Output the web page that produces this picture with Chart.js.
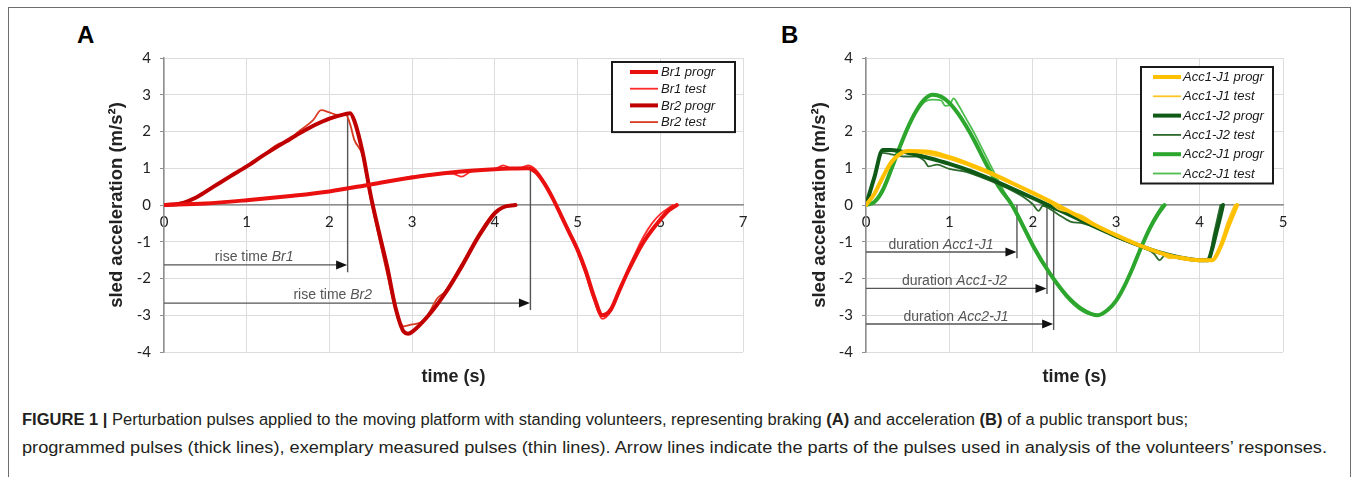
<!DOCTYPE html>
<html>
<head>
<meta charset="utf-8">
<title>Figure 1 - sled acceleration pulses</title>
<script src="https://cdn.jsdelivr.net/npm/chart.js@4.4.1/dist/chart.umd.min.js"></script>
<style>
  html, body { margin: 0; padding: 0; background: #fff; }
  body { width: 1355px; height: 477px; position: relative; overflow: hidden; font-family: "Liberation Sans", Arial, sans-serif; }
  .frame { position: absolute; left: 8px; top: 7px; width: 1343px; height: 520px; border: 1.5px solid #6e6e6e; box-sizing: border-box; }
  .panel { position: absolute; top: 21px; font: bold 24px "Liberation Sans", Arial, sans-serif; color: #000; }
  .wrap { position: absolute; top: 30px; }
  .caption { position: absolute; left: 22px; top: 406px; font-size: 16px; line-height: 28px; color: #231f20; white-space: nowrap; }
  .caption div { width: max-content; transform-origin: 0 0; }
</style>
</head>
<body>
<div class="frame"></div>
<div class="panel" style="left:77px">A</div>
<div class="panel" style="left:781px">B</div>
<div class="wrap" style="left:60px"><canvas id="chartA" width="700" height="360"></canvas></div>
<div class="wrap" style="left:760px"><canvas id="chartB" width="560" height="360"></canvas></div>
<div class="caption" id="caption">
  <div id="capLine1"><b>FIGURE 1 |</b> Perturbation pulses applied to the moving platform with standing volunteers, representing braking <b>(A)</b> and acceleration <b>(B)</b> of a public transport bus;</div>
  <div id="capLine2">programmed pulses (thick lines), exemplary measured pulses (thin lines). Arrow lines indicate the parts of the pulses used in analysis of the volunteers’ responses.</div>
</div>
<script>
// ---- Panel A: braking pulses (time in s, acceleration in m/s^2) ----
const br1ProgrT = [0, 0.5, 1.0, 1.5, 2.0, 2.5, 3.0, 3.5, 4.0, 4.2, 4.4, 4.5, 4.6, 4.7, 4.8, 4.9, 5.0, 5.1, 5.2, 5.3, 5.4, 5.5, 5.6, 5.7, 5.8, 5.9, 6.0, 6.1, 6.2];
const br1ProgrA = [0, 0.04, 0.13, 0.24, 0.37, 0.56, 0.75, 0.89, 0.97, 0.99, 1.0, 0.88, 0.58, 0.18, -0.28, -0.75, -1.22, -1.8, -2.5, -3.0, -2.85, -2.35, -1.85, -1.4, -1.0, -0.68, -0.4, -0.15, 0];

const br1TestT = [0, 0.5, 1.0, 1.5, 2.0, 2.5, 2.9, 3.0, 3.1, 3.2, 3.4, 3.5, 3.6, 3.7, 3.8, 4.0, 4.1, 4.2, 4.3, 4.4, 4.5, 4.6, 4.7, 4.8, 4.9, 5.0, 5.1, 5.2, 5.3, 5.4, 5.5, 5.6, 5.7, 5.8, 5.9, 6.0, 6.15];
const br1TestA = [0, 0.05, 0.14, 0.25, 0.38, 0.57, 0.73, 0.78, 0.76, 0.8, 0.86, 0.85, 0.77, 0.9, 0.95, 0.98, 1.08, 1.0, 1.0, 1.08, 0.95, 0.62, 0.2, -0.28, -0.78, -1.28, -1.9, -2.6, -3.1, -2.9, -2.4, -1.8, -1.3, -0.85, -0.5, -0.25, 0];

const br2ProgrT = [0, 0.2, 0.4, 0.6, 0.8, 1.0, 1.2, 1.4, 1.6, 1.8, 2.0, 2.2, 2.25, 2.3, 2.4, 2.5, 2.6, 2.7, 2.8, 2.9, 2.95, 3.0, 3.2, 3.4, 3.6, 3.8, 4.0, 4.1, 4.25];
const br2ProgrA = [0, 0.04, 0.22, 0.5, 0.78, 1.05, 1.35, 1.63, 1.9, 2.15, 2.35, 2.48, 2.5, 2.3, 1.45, 0.25, -0.75, -1.7, -2.8, -3.45, -3.5, -3.45, -3.0, -2.4, -1.67, -0.87, -0.22, -0.06, 0];

const br2TestT = [0, 0.2, 0.4, 0.6, 0.8, 1.0, 1.2, 1.4, 1.5, 1.6, 1.8, 1.9, 2.0, 2.1, 2.2, 2.25, 2.3, 2.4, 2.5, 2.6, 2.7, 2.8, 2.9, 3.0, 3.1, 3.2, 3.3, 3.4, 3.6, 3.8, 4.0, 4.2];
const br2TestA = [0, 0.05, 0.23, 0.5, 0.78, 1.06, 1.36, 1.68, 1.72, 1.95, 2.3, 2.58, 2.52, 2.45, 2.45, 2.2, 1.78, 1.35, 0.15, -0.9, -1.9, -2.85, -3.3, -3.25, -3.2, -2.95, -2.55, -2.35, -1.6, -0.8, -0.18, 0];

// arrow lines of panel A (data units)
const riseArrows = [
  { text: 'rise time ', tag: 'Br1', y: -1.63, end: 2.22, top: 2.5, bottom: -1.83, labelX: 1.09, labelY: -1.42 },
  { text: 'rise time ', tag: 'Br2', y: -2.67, end: 4.43, top: 1.0, bottom: -2.86, labelX: 2.04, labelY: -2.46 }
];

// ---- Panel B: acceleration pulses ----
const acc1J1ProgrT = [0, 0.1, 0.2, 0.3, 0.4, 0.5, 0.75, 1.0, 1.25, 1.5, 1.75, 2.0, 2.25, 2.5, 2.75, 3.0, 3.25, 3.5, 3.75, 4.0, 4.15, 4.25, 4.35, 4.45];
const acc1J1ProgrA = [0, 0.3, 0.75, 1.15, 1.38, 1.47, 1.45, 1.3, 1.1, 0.87, 0.6, 0.33, 0.05, -0.25, -0.55, -0.82, -1.07, -1.28, -1.43, -1.5, -1.5, -1.15, -0.55, 0];

const acc1J1TestT = [0, 0.1, 0.2, 0.3, 0.4, 0.5, 0.7, 1.0, 1.25, 1.5, 1.75, 2.0, 2.2, 2.3, 2.5, 2.6, 2.75, 3.0, 3.25, 3.5, 3.65, 3.75, 4.0, 4.15, 4.25, 4.33, 4.42];
const acc1J1TestA = [0, 0.35, 0.8, 1.2, 1.4, 1.45, 1.4, 1.25, 1.05, 0.82, 0.57, 0.3, 0.08, -0.1, -0.22, -0.3, -0.52, -0.8, -1.05, -1.27, -1.45, -1.42, -1.5, -1.48, -1.05, -0.5, 0];

const acc1J2ProgrT = [0, 0.1, 0.2, 0.3, 0.5, 0.75, 1.0, 1.25, 1.5, 1.75, 2.0, 2.25, 2.5, 2.75, 3.0, 3.25, 3.5, 3.75, 4.0, 4.1, 4.15, 4.2, 4.25, 4.28];
const acc1J2ProgrA = [0, 0.75, 1.5, 1.5, 1.42, 1.28, 1.12, 0.93, 0.7, 0.45, 0.19, -0.07, -0.33, -0.6, -0.85, -1.08, -1.28, -1.42, -1.5, -1.5, -1.2, -0.75, -0.3, 0];

const acc1J2TestT = [0, 0.1, 0.2, 0.3, 0.45, 0.6, 0.7, 0.75, 0.85, 1.0, 1.2, 1.4, 1.5, 1.7, 1.9, 2.0, 2.07, 2.12, 2.2, 2.3, 2.45, 2.6, 2.8, 3.0, 3.25, 3.45, 3.52, 3.58, 3.75, 4.0, 4.1, 4.17, 4.25];
const acc1J2TestA = [0, 0.8, 1.42, 1.38, 1.32, 1.32, 1.2, 1.05, 1.1, 0.98, 0.9, 0.74, 0.65, 0.45, 0.2, 0.02, -0.16, -0.02, -0.1, -0.25, -0.45, -0.5, -0.65, -0.88, -1.1, -1.32, -1.5, -1.38, -1.45, -1.5, -1.5, -0.8, 0];

const acc2J1ProgrT = [0, 0.1, 0.2, 0.3, 0.4, 0.5, 0.6, 0.7, 0.8, 0.9, 1.0, 1.1, 1.2, 1.3, 1.4, 1.5, 1.6, 1.75, 1.9, 2.0, 2.2, 2.4, 2.6, 2.78, 2.9, 3.0, 3.1, 3.2, 3.3, 3.4, 3.5, 3.58];
const acc2J1ProgrA = [0, 0.08, 0.4, 0.95, 1.55, 2.1, 2.55, 2.87, 3.0, 2.95, 2.78, 2.5, 2.15, 1.75, 1.3, 0.87, 0.47, 0, -0.65, -1.1, -1.85, -2.45, -2.85, -3.0, -2.85, -2.6, -2.2, -1.7, -1.15, -0.65, -0.25, 0];

const acc2J1TestT = [0, 0.1, 0.2, 0.3, 0.4, 0.5, 0.6, 0.7, 0.8, 0.9, 0.95, 1.0, 1.05, 1.1, 1.2, 1.3, 1.4, 1.5, 1.6, 1.7, 1.8, 1.9, 2.0, 2.1, 2.2, 2.4, 2.6, 2.75, 2.9, 3.0, 3.1, 3.2, 3.3, 3.4, 3.55];
const acc2J1TestA = [0, 0.06, 0.35, 0.9, 1.5, 2.05, 2.5, 2.8, 2.87, 2.85, 2.7, 2.72, 2.9, 2.75, 2.35, 1.95, 1.5, 1.05, 0.6, 0.2, -0.15, -0.6, -1.05, -1.45, -1.85, -2.5, -2.9, -3.0, -2.85, -2.6, -2.2, -1.7, -1.15, -0.6, 0];

// arrow lines of panel B (data units)
const durationArrows = [
  { text: 'duration ', tag: 'Acc1-J1', y: -1.28, end: 1.81, top: 0, bottom: -1.45, labelX: 0.9, labelY: -1.09 },
  { text: 'duration ', tag: 'Acc1-J2', y: -2.27, end: 2.17, top: 0, bottom: -2.42, labelX: 1.06, labelY: -2.07 },
  { text: 'duration ', tag: 'Acc2-J1', y: -3.24, end: 2.25, top: 0, bottom: -3.4, labelX: 1.08, labelY: -3.06 }
];

const pts = (t, a) => t.map((v, i) => ({ x: v, y: a[i] }));

const THICK = 4, THIN = 1.8;

// draws arrow lines, x title and the boxed legend
const extrasPlugin = {
  id: 'extras',
  beforeDatasetsDraw(chart, args, opts) {
    const { ctx, scales: { x, y } } = chart;
    ctx.save();
    (opts.arrows || []).forEach(a => {
      const x0 = x.getPixelForValue(0);
      const x1 = x.getPixelForValue(a.end);
      const yy = y.getPixelForValue(a.y);
      ctx.strokeStyle = '#555';
      ctx.lineWidth = 1.4;
      ctx.beginPath();
      ctx.moveTo(x0, yy);
      ctx.lineTo(x1 - 8, yy);
      ctx.stroke();
      ctx.beginPath();
      ctx.moveTo(x1, y.getPixelForValue(a.top));
      ctx.lineTo(x1, y.getPixelForValue(a.bottom));
      ctx.stroke();
      ctx.fillStyle = '#111';
      ctx.beginPath();
      ctx.moveTo(x1 - 0.5, yy);
      ctx.lineTo(x1 - 11.5, yy - 4.5);
      ctx.lineTo(x1 - 11.5, yy + 4.5);
      ctx.closePath();
      ctx.fill();
      // label: normal part + italic tag
      const normal = '14px "Liberation Sans", Arial, sans-serif';
      const italic = 'italic 14px "Liberation Sans", Arial, sans-serif';
      ctx.font = normal;
      const w1 = ctx.measureText(a.text).width;
      ctx.font = italic;
      const w2 = ctx.measureText(a.tag).width;
      const lx = x.getPixelForValue(a.labelX) - (w1 + w2) / 2;
      const ly = y.getPixelForValue(a.labelY);
      ctx.fillStyle = '#555';
      ctx.textBaseline = 'middle';
      ctx.textAlign = 'left';
      ctx.font = normal;
      ctx.fillText(a.text, lx, ly);
      ctx.font = italic;
      ctx.fillText(a.tag, lx + w1, ly);
    });
    ctx.restore();
  },
  afterDraw(chart, args, opts) {
    const { ctx, chartArea } = chart;
    ctx.save();
    // x axis title below the plot
    ctx.fillStyle = '#222';
    ctx.font = 'bold 18px "Liberation Sans", Arial, sans-serif';
    ctx.textAlign = 'center';
    ctx.textBaseline = 'middle';
    ctx.fillText('time (s)', (chartArea.left + chartArea.right) / 2, chartArea.bottom + 25);

    // legend box
    const lg = opts.legend;
    const ds = chart.data.datasets;
    const left = chartArea.right - lg.right - lg.width;
    const top = chartArea.top + lg.top;
    const h = lg.first * 2 + lg.row * (ds.length - 1);
    ctx.fillStyle = '#fff';
    ctx.fillRect(left, top, lg.width, h);
    ctx.strokeStyle = '#1a1a1a';
    ctx.lineWidth = 2;
    ctx.strokeRect(left, top, lg.width, h);
    ctx.font = 'italic 13px "Liberation Sans", Arial, sans-serif';
    ctx.textAlign = 'left';
    ds.forEach((d, i) => {
      const yy = top + lg.first + i * lg.row;
      ctx.strokeStyle = d.borderColor;
      ctx.lineWidth = d.borderWidth;
      ctx.beginPath();
      ctx.moveTo(left + lg.sample[0], yy);
      ctx.lineTo(left + lg.sample[1], yy);
      ctx.stroke();
      ctx.fillStyle = '#1a1a1a';
      ctx.fillText(d.label, left + lg.text, yy + 0.5);
    });
    ctx.restore();
  }
};

function panelOptions(xMax, padding, yAxisWidth, extras) {
  const tickFont = { family: 'Lato, "Liberation Sans", sans-serif', size: 15 };
  return {
    responsive: false,
    animation: false,
    layout: { padding: padding },
    elements: {
      point: { radius: 0 },
      line: { cubicInterpolationMode: 'monotone', borderCapStyle: 'round', borderJoinStyle: 'round' }
    },
    plugins: {
      legend: { display: false },
      tooltip: { enabled: false },
      extras: extras
    },
    scales: {
      x: {
        type: 'linear',
        min: 0,
        max: xMax,
        position: { y: 0 },
        ticks: { stepSize: 1, padding: 8, color: '#222', font: tickFont },
        grid: { color: '#dcdcdc', drawTicks: false },
        border: { color: '#8f8f8f', width: 1.5 }
      },
      y: {
        min: -4,
        max: 4,
        afterFit: s => { s.width = yAxisWidth; },
        ticks: { stepSize: 1, padding: 9, color: '#222', font: tickFont },
        grid: { color: '#dcdcdc', tickColor: '#8f8f8f', tickLength: 4 },
        border: { color: '#8f8f8f', width: 1.5 },
        title: {
          display: true,
          text: 'sled acceleration (m/s²)',
          color: '#222',
          font: { family: '"Liberation Sans", Arial, sans-serif', size: 18.5, weight: 'bold' },
          padding: { top: 6, bottom: 0 }
        }
      }
    }
  };
}

Chart.register(extrasPlugin);

new Chart(document.getElementById('chartA'), {
  type: 'line',
  data: {
    datasets: [
      { label: 'Br1 progr', data: pts(br1ProgrT, br1ProgrA), borderColor: '#ea1010', borderWidth: THICK },
      { label: 'Br1 test', data: pts(br1TestT, br1TestA), borderColor: '#ff2b2b', borderWidth: THIN },
      { label: 'Br2 progr', data: pts(br2ProgrT, br2ProgrA), borderColor: '#c00000', borderWidth: THICK },
      { label: 'Br2 test', data: pts(br2TestT, br2TestA), borderColor: '#d83a22', borderWidth: THIN }
    ]
  },
  options: panelOptions(7, { left: 40, right: 17, top: 28, bottom: 38 }, 64, {
    arrows: riseArrows,
    legend: { right: 8, top: 4, width: 123, first: 10, row: 16.7, sample: [18, 46], text: 49 }
  })
});

new Chart(document.getElementById('chartB'), {
  type: 'line',
  data: {
    datasets: [
      { label: 'Acc1-J1 progr', data: pts(acc1J1ProgrT, acc1J1ProgrA), borderColor: '#ffc000', borderWidth: THICK },
      { label: 'Acc1-J1 test', data: pts(acc1J1TestT, acc1J1TestA), borderColor: '#ffc526', borderWidth: THIN },
      { label: 'Acc1-J2 progr', data: pts(acc1J2ProgrT, acc1J2ProgrA), borderColor: '#0f5a17', borderWidth: THICK },
      { label: 'Acc1-J2 test', data: pts(acc1J2TestT, acc1J2TestA), borderColor: '#2d6a2d', borderWidth: THIN },
      { label: 'Acc2-J1 progr', data: pts(acc2J1ProgrT, acc2J1ProgrA), borderColor: '#2ca62c', borderWidth: THICK },
      { label: 'Acc2-J1 test', data: pts(acc2J1TestT, acc2J1TestA), borderColor: '#4dbd4d', borderWidth: THIN }
    ]
  },
  options: panelOptions(5, { left: 43, right: 37, top: 28, bottom: 38 }, 63, {
    arrows: durationArrows,
    legend: { right: 10, top: 9, width: 132, first: 10, row: 19.3, sample: [12, 40], text: 42 }
  })
});

// caption font is condensed in the original: squeeze each line to its length there
[['capLine1', 1166], ['capLine2', 1305]].forEach(([id, target]) => {
  const el = document.getElementById(id);
  el.style.transform = 'scaleX(' + (target / el.getBoundingClientRect().width) + ')';
});
</script>
</body>
</html>
